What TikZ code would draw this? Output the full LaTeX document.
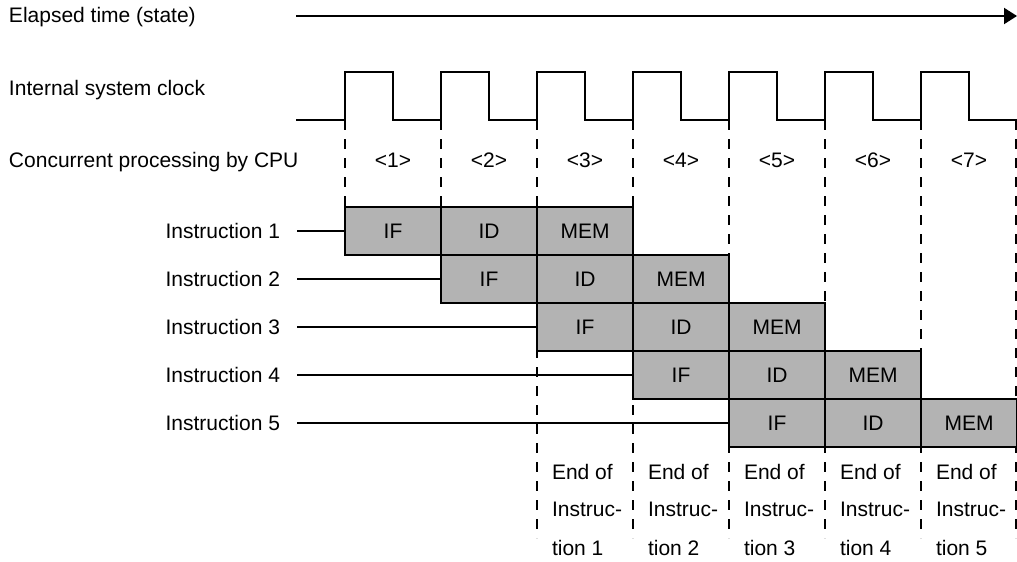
\documentclass[tikz,border=0pt]{standalone}
\usepackage{fontspec}
\setmainfont{Liberation Sans}
\usetikzlibrary{arrows.meta}
\definecolor{cellgray}{RGB}{179,179,179}
\begin{document}
\begin{tikzpicture}[x=1pt,y=-1pt,line width=2pt,
  every node/.style={font=\fontsize{21}{25}\selectfont,inner sep=0pt,outer sep=0pt},
  cell/.style={draw,fill=cellgray,minimum width=96pt,minimum height=48pt,line width=2pt},
  guide/.style={dash pattern=on 10pt off 9pt,line width=2pt},
  rowlabel/.style={anchor=base west},
  phase/.style={anchor=base},
  instlabel/.style={anchor=east},
  endtext/.style={anchor=base west}]
\useasboundingbox (0,0) rectangle (1017,562);

% row labels
\node[rowlabel] (elapsed) at (9,23) {Elapsed time (state)};
\node[rowlabel] (clocklab) at (9,95) {Internal system clock};
\node[rowlabel] (cpulab) at (9,167) {Concurrent processing by CPU};

% time arrow
\coordinate (tstart) at (296,16);
\coordinate (tend) at (1017,16);
\draw[-{Triangle[length=13pt,width=16pt]}] (tstart) -- (tend);

% dashed guides
\foreach \x/\y [count=\n] in {345/207,441/207,537/538,633/538,729/538,825/538,921/538,1016/538}{
  \coordinate (gtop\n) at (\x,120);
  \coordinate (gbot\n) at (\x,\y);
  \draw[guide] (gtop\n) -- (gbot\n);
}

% clock
\draw (296,120) \foreach \k in {0,...,6}{
  -- ({345+96*\k},120) -- ({345+96*\k},72) -- ({393+96*\k},72) -- ({393+96*\k},120)
} -- (1017,120);

% phase labels
\foreach \k in {1,...,7}{
  \node[phase] (ph\k) at ({393+96*(\k-1)},167) {<\k>};
}

% instruction labels and lines
\foreach \i in {1,...,5}{
  \node[instlabel] (ins\i) at (280,{231+48*(\i-1)}) {Instruction \i};
}
% cells
\foreach \i in {1,...,5}{
  \foreach \t [count=\s from 0] in {IF,ID,MEM}{
    \node[cell] (r\i-\s) at ({393+96*(\i-1+\s)},{231+48*(\i-1)}) {\t};
  }
}
\foreach \i in {1,...,5}{
  \draw ([xshift=17pt]ins\i.east) -- (r\i-0.west);
}

% end-of-instruction texts
\foreach \k in {1,...,5}{
  \node[endtext] (ea\k) at ({552+96*(\k-1)},479) {End of};
  \node[endtext] (eb\k) at ({552+96*(\k-1)},516) {Instruc-};
  \node[endtext] (ec\k) at ({552+96*(\k-1)},555) {tion \k};
}
\end{tikzpicture}
\end{document}
